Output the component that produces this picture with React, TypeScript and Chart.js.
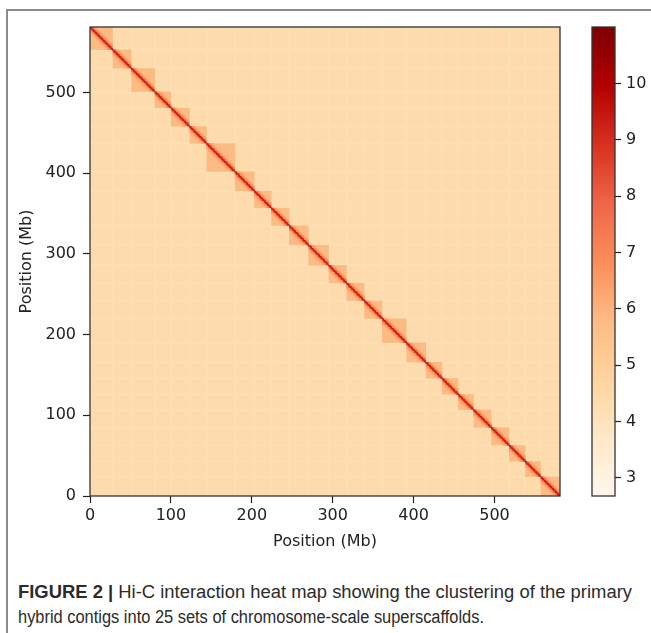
import React, { useEffect, useRef } from "react";
import { Chart, registerables } from "chart.js";

Chart.register(...registerables);

// ---- data ----
const chromSizes = [28, 23, 29, 20, 23, 21, 35, 24, 21, 22, 24, 25, 22, 22, 22, 30, 24, 20, 20, 19, 22, 22, 20, 19, 24];
const xTicks = [0, 100, 200, 300, 400, 500];
const yTicks = [0, 100, 200, 300, 400, 500];
const colorbarTicks = [3, 4, 5, 6, 7, 8, 9, 10];
const colorMin = 2.68;
const colorMax = 11;
const interLevel = 4.4; // between-chromosome contacts
const boundaryLevel = 4.2; // lighter strips at chromosome edges
const intraLevel = 5.8; // within-chromosome contacts
const bandLevels = [9.3, 7.3, 6.6, 6.2]; // diagonal and near-diagonal bins
const binSize = 2; // Mb
const captionBold = "FIGURE 2 |";
const captionLine1 = " Hi-C interaction heat map showing the clustering of the primary";
const captionLine2 = "hybrid contigs into 25 sets of chromosome-scale superscaffolds.";
const axisTitle = "Position (Mb)";

const orRdStops = ["#fff7ec", "#fee8c8", "#fdd49e", "#fdbb84", "#fc8d59", "#ef6548", "#d7301f", "#b30000", "#7f0000"];

const total = chromSizes.reduce((a, b) => a + b, 0);
const starts: number[] = [];
chromSizes.reduce((acc, s) => {
  starts.push(acc);
  return acc + s;
}, 0);

function hexToRgb(h: string) {
  return [parseInt(h.slice(1, 3), 16), parseInt(h.slice(3, 5), 16), parseInt(h.slice(5, 7), 16)];
}
const stopRgb = orRdStops.map(hexToRgb);

function colorFor(v: number) {
  let t = (v - colorMin) / (colorMax - colorMin);
  t = Math.max(0, Math.min(1, t));
  const pos = t * (stopRgb.length - 1);
  const i = Math.min(stopRgb.length - 2, Math.floor(pos));
  const f = pos - i;
  const a = stopRgb[i];
  const b = stopRgb[i + 1];
  const c = a.map((av, k) => Math.round(av + (b[k] - av) * f));
  return `rgb(${c[0]},${c[1]},${c[2]})`;
}

const tickFont = { family: "'DejaVu Sans', sans-serif", size: 16 };
const textColor = "#222";

const heatmapPlugin = {
  id: "hicHeatmap",
  beforeDatasetsDraw(chart: any) {
    const { ctx, chartArea, scales } = chart;
    const xs = scales.x;
    const ys = scales.y;
    ctx.save();
    ctx.beginPath();
    ctx.rect(chartArea.left, chartArea.top, chartArea.right - chartArea.left, chartArea.bottom - chartArea.top);
    ctx.clip();
    const rect = (x0: number, x1: number, y0: number, y1: number, v: number) => {
      const px0 = xs.getPixelForValue(x0);
      const px1 = xs.getPixelForValue(x1);
      const py0 = ys.getPixelForValue(y1);
      const py1 = ys.getPixelForValue(y0);
      ctx.fillStyle = colorFor(v);
      ctx.fillRect(px0, py0, px1 - px0 + 0.3, py1 - py0 + 0.3);
    };
    // background
    rect(0, total, 0, total, interLevel);
    // lighter strips at chromosome boundaries
    starts.slice(1).forEach((b) => {
      rect(b - 1, b + 1, 0, total, boundaryLevel);
      rect(0, total, total - b - 1, total - b + 1, boundaryLevel);
    });
    // chromosome blocks
    chromSizes.forEach((size, i) => {
      const s = starts[i];
      const e = s + size;
      rect(s, e, total - e, total - s, intraLevel);
    });
    // diagonal band
    chromSizes.forEach((size, i) => {
      const s = starts[i];
      const e = s + size;
      for (let d = bandLevels.length - 1; d >= 0; d--) {
        for (let a = s; a < e; a += binSize) {
          const b = a + d * binSize;
          if (b >= e) continue;
          const aw = Math.min(binSize, e - a);
          const bw = Math.min(binSize, e - b);
          rect(a, a + aw, total - (b + bw), total - b, bandLevels[d]);
          rect(b, b + bw, total - (a + aw), total - a, bandLevels[d]);
        }
      }
    });
    ctx.restore();
  },
  afterDraw(chart: any) {
    const { ctx, chartArea } = chart;
    ctx.save();
    ctx.strokeStyle = "#333";
    ctx.lineWidth = 1.3;
    ctx.strokeRect(chartArea.left, chartArea.top, chartArea.right - chartArea.left, chartArea.bottom - chartArea.top);
    ctx.restore();
  },
};

const colorbarFrame = {
  id: "cbFrame",
  afterDraw(chart: any) {
    const { ctx, chartArea } = chart;
    ctx.save();
    ctx.strokeStyle = "#333";
    ctx.lineWidth = 1.3;
    ctx.strokeRect(chartArea.left, chartArea.top, chartArea.right - chartArea.left, chartArea.bottom - chartArea.top);
    ctx.restore();
  },
};

export default function App() {
  const mainRef = useRef<HTMLCanvasElement>(null);
  const cbRef = useRef<HTMLCanvasElement>(null);

  useEffect(() => {
    if (!mainRef.current || !cbRef.current) return;
    const main = new Chart(mainRef.current, {
      type: "scatter",
      data: { datasets: [{ data: [], pointRadius: 0 }] },
      options: {
        animation: false,
        responsive: false,
        events: [],
        layout: { padding: { left: 0, top: 27, right: 20, bottom: 0 } },
        plugins: { legend: { display: false }, tooltip: { enabled: false } },
        scales: {
          x: {
            type: "linear",
            min: 0,
            max: total,
            afterBuildTicks: (s: any) => {
              s.ticks = xTicks.map((v) => ({ value: v }));
            },
            afterFit: (s: any) => {
              s.height = 64;
            },
            grid: { drawOnChartArea: false, drawTicks: true, tickLength: 7, tickColor: textColor, tickWidth: 1.2 },
            border: { display: false },
            ticks: { color: textColor, font: tickFont, padding: 3, maxRotation: 0, autoSkip: false },
            title: { display: true, text: axisTitle, color: textColor, font: tickFont, padding: { top: 0, bottom: 9 } },
          },
          y: {
            type: "linear",
            min: 0,
            max: total,
            afterBuildTicks: (s: any) => {
              s.ticks = yTicks.map((v) => ({ value: v }));
            },
            afterFit: (s: any) => {
              s.width = 90;
            },
            grid: { drawOnChartArea: false, drawTicks: true, tickLength: 7, tickColor: textColor, tickWidth: 1.2 },
            border: { display: false },
            ticks: { color: textColor, font: tickFont, padding: 7, autoSkip: false },
            title: { display: true, text: axisTitle, color: textColor, font: tickFont, padding: { top: 17, bottom: 0 } },
          },
        },
      },
      plugins: [heatmapPlugin],
    } as any);

    const cb = new Chart(cbRef.current, {
      type: "bar",
      data: {
        labels: ["colorbar"],
        datasets: [
          {
            data: [[colorMin, colorMax]] as any,
            backgroundColor: (c: any) => {
              const area = c.chart.chartArea;
              if (!area) return orRdStops[4];
              const g = c.chart.ctx.createLinearGradient(0, area.bottom, 0, area.top);
              orRdStops.forEach((col, i) => g.addColorStop(i / (orRdStops.length - 1), col));
              return g;
            },
            borderWidth: 0,
            barPercentage: 1,
            categoryPercentage: 1,
          },
        ],
      },
      options: {
        animation: false,
        responsive: false,
        events: [],
        layout: { padding: { left: 12, top: 27, right: 0, bottom: 64 } },
        plugins: { legend: { display: false }, tooltip: { enabled: false } },
        scales: {
          x: { display: false },
          y: {
            position: "right",
            min: colorMin,
            max: colorMax,
            afterBuildTicks: (s: any) => {
              s.ticks = colorbarTicks.map((v) => ({ value: v }));
            },
            afterFit: (s: any) => {
              s.width = 36;
            },
            grid: { drawOnChartArea: false, drawTicks: true, tickLength: 6, tickColor: textColor, tickWidth: 1.2 },
            border: { display: false },
            ticks: { color: textColor, font: tickFont, padding: 5, autoSkip: false },
          },
        },
      },
      plugins: [colorbarFrame],
    } as any);

    return () => {
      main.destroy();
      cb.destroy();
    };
  }, []);

  const captionFont = "'Liberation Sans Narrow', 'Liberation Sans', Arial, sans-serif";

  return (
    <div style={{ position: "fixed", left: 0, top: 0, width: 651, height: 633, background: "#fff", overflow: "hidden" }}>
      <div
        style={{
          position: "absolute",
          left: 6,
          top: 9,
          width: 700,
          height: 700,
          borderTop: "2px solid #8c8c8c",
          borderLeft: "2px solid #8c8c8c",
        }}
      />
      <canvas ref={mainRef} width={580} height={560} style={{ position: "absolute", left: 0, top: 0, width: 580, height: 560 }} />
      <canvas ref={cbRef} width={71} height={560} style={{ position: "absolute", left: 580, top: 0, width: 71, height: 560 }} />
      <svg width={651} height={70} style={{ position: "absolute", left: 0, top: 570 }}>
        <text
          x={18}
          y={28}
          fontSize={18}
          fill="#2b2b2b"
          fontFamily={captionFont}
          textLength={614}
          lengthAdjust="spacingAndGlyphs"
        >
          <tspan fontWeight="bold">{captionBold}</tspan>
          <tspan>{captionLine1}</tspan>
        </text>
        <text
          x={18}
          y={53}
          fontSize={18}
          fill="#2b2b2b"
          fontFamily={captionFont}
          textLength={466}
          lengthAdjust="spacingAndGlyphs"
        >
          {captionLine2}
        </text>
      </svg>
    </div>
  );
}
